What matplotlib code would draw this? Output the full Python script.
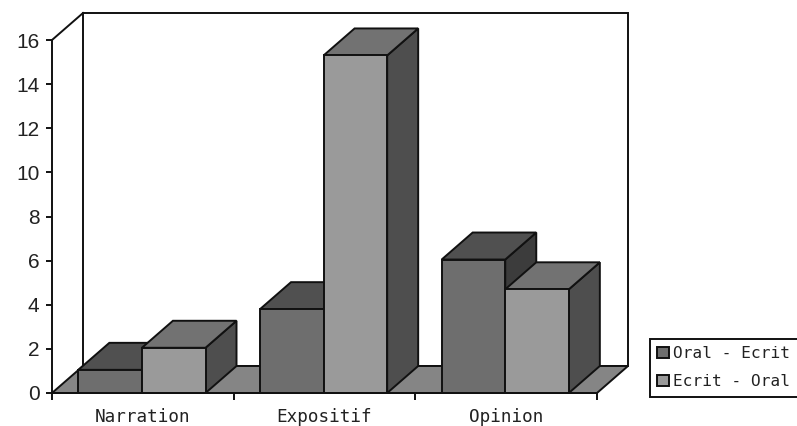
import matplotlib
matplotlib.use("Agg")
import matplotlib.pyplot as plt
from matplotlib.patches import Polygon, Patch

categories = ["Narration", "Expositif", "Opinion"]
series_names = ["Oral - Ecrit", "Ecrit - Oral"]
oral_ecrit = [1.05, 3.8, 6.05]
ecrit_oral = [2.05, 15.3, 4.7]
y_ticks = [0, 2, 4, 6, 8, 10, 12, 14, 16]

W, H = 797, 426
fig = plt.figure(figsize=(W / 100, H / 100), dpi=100, facecolor="white")
ax = fig.add_axes([52 / W, (H - 393) / H, 545 / W, 353 / H])
ax.set_xlim(0, 3)
ax.set_ylim(0, 16)

DX = 31 / (545 / 3)   # chart depth in category units
DY = 27 / (353 / 16)  # chart depth in value units
BW = 0.35
GAP = 0.145
LW = 1.4
EDGE = "#111111"


def poly(points, fc, z):
    ax.add_patch(Polygon(points, closed=True, facecolor=fc, edgecolor=EDGE,
                         linewidth=LW, zorder=z, clip_on=False, joinstyle="miter"))


# back wall and floor
poly([(DX, DY), (DX, 16 + DY), (3 + DX, 16 + DY), (3 + DX, DY)], "white", 1)
poly([(0, 0), (DX, DY), (3 + DX, DY), (3, 0)], "#858585", 1.5)
ax.plot([0, DX], [16, 16 + DY], color=EDGE, lw=LW, clip_on=False, zorder=1.6)


def bar3d(x, v, front, top, side, z):
    poly([(x + BW, 0), (x + BW + DX, DY), (x + BW + DX, v + DY), (x + BW, v)], side, z)
    poly([(x, v), (x + DX, v + DY), (x + BW + DX, v + DY), (x + BW, v)], top, z)
    poly([(x, 0), (x, v), (x + BW, v), (x + BW, 0)], front, z + 0.1)


for i, (a, b) in enumerate(zip(oral_ecrit, ecrit_oral)):
    bar3d(i + GAP, a, "#6e6e6e", "#505050", "#3c3c3c", 2 + i)
    bar3d(i + GAP + BW, b, "#9a9a9a", "#727272", "#4e4e4e", 2.3 + i)

# axes
for s in ("top", "right"):
    ax.spines[s].set_visible(False)
for s in ("left", "bottom"):
    ax.spines[s].set_linewidth(LW)
    ax.spines[s].set_color(EDGE)
    ax.spines[s].set_zorder(10)
ax.patch.set_alpha(0)

ax.set_yticks(y_ticks)
ax.set_yticklabels([str(t) for t in y_ticks], family="Liberation Sans", fontsize=15, color="#222222")
ax.tick_params(axis="y", length=4.5, width=LW, pad=4.5, color=EDGE)
ax.set_xticks([0, 1, 2, 3])
ax.set_xticklabels([])
ax.tick_params(axis="x", length=5, width=LW, color=EDGE)
ax.set_xticks([0.5, 1.5, 2.5], minor=True)
ax.set_xticklabels(categories, minor=True, family="DejaVu Sans Mono", fontsize=12.7, color="#222222")
ax.tick_params(axis="x", which="minor", length=0, pad=10.5)

handles = [Patch(facecolor="#6e6e6e", edgecolor=EDGE, linewidth=LW),
           Patch(facecolor="#9a9a9a", edgecolor=EDGE, linewidth=LW)]
leg = fig.legend(handles, series_names, loc="lower left",
                 bbox_to_anchor=(650 / W, (H - 396.5) / H),
                 prop={"family": "DejaVu Sans Mono", "size": 11.6},
                 frameon=True, fancybox=False, edgecolor=EDGE, framealpha=1,
                 handlelength=0.7, handleheight=0.7, handletextpad=0.3,
                 labelspacing=0.8, borderpad=0.45, borderaxespad=0, labelcolor="#222222")
leg.get_frame().set_linewidth(LW)

fig.savefig("out.png", dpi=100)
